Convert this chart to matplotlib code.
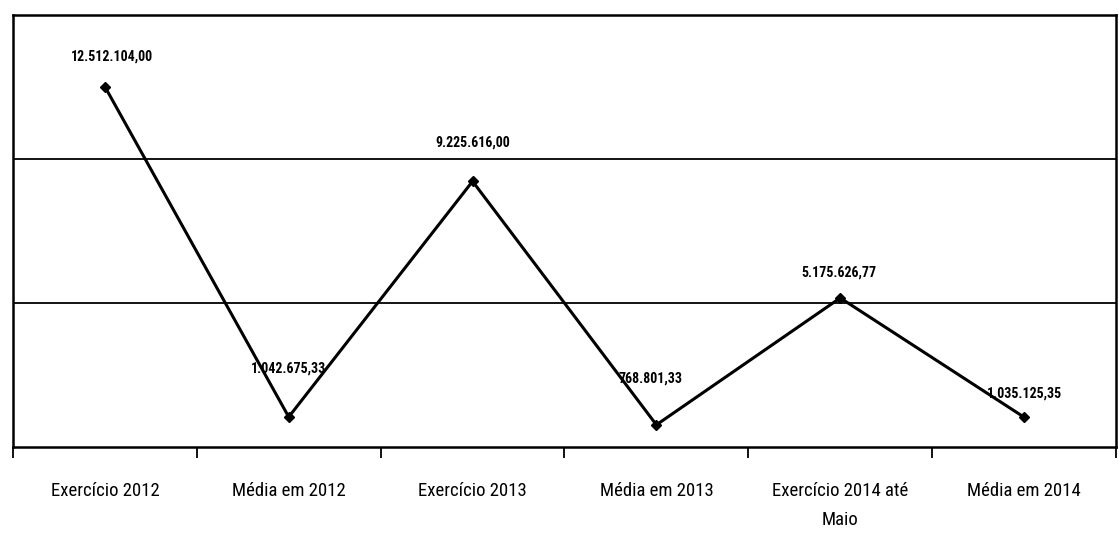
import matplotlib
matplotlib.use("Agg")
import matplotlib.pyplot as plt
from matplotlib import font_manager
from matplotlib.ticker import FixedLocator

categories = [
    "Exercício 2012",
    "Média em 2012",
    "Exercício 2013",
    "Média em 2013",
    "Exercício 2014 até\nMaio",
    "Média em 2014",
]
values = [12512104.00, 1042675.33, 9225616.00, 768801.33, 5175626.77, 1035125.35]
value_labels = [
    "12.512.104,00",
    "1.042.675,33",
    "9.225.616,00",
    "768.801,33",
    "5.175.626,77",
    "1.035.125,35",
]
# label offsets (points) relative to each marker
label_offsets = [(5, 22), (0, 35), (0, 28), (-4, 33), (-1, 18), (0, 17)]


def pick_narrow_font():
    """Return (family, stretch) of a condensed sans face if one is installed."""
    fonts = font_manager.fontManager.ttflist
    names = {f.name for f in fonts}
    for fam in ["Liberation Sans Narrow", "Roboto Condensed", "Open Sans Condensed",
                "Noto Sans Condensed", "DejaVu Sans Condensed", "Arial Narrow"]:
        if fam in names:
            return fam, "normal"
    for fam in ["Noto Sans", "Open Sans", "Roboto", "DejaVu Sans"]:
        for f in fonts:
            if f.name == fam and str(f.stretch) in ("condensed", "semi-condensed", "extra-condensed"):
                return fam, str(f.stretch)
    return "Lato", "normal"


narrow_family, narrow_stretch = pick_narrow_font()
narrow = [narrow_family, "Liberation Sans", "DejaVu Sans"]

fig = plt.figure(figsize=(11.19, 5.42), dpi=100)
ax = fig.add_axes([0.0116, 0.1753, 0.9857, 0.797])

x = list(range(len(categories)))
ax.plot(x, values, color="black", linewidth=2.2, marker="D", markersize=5,
        markerfacecolor="black", markeredgecolor="black", zorder=3)

for xi, v, lab, off in zip(x, values, value_labels, label_offsets):
    ax.annotate(lab, (xi, v), xytext=off, textcoords="offset points",
                ha="center", va="center", fontsize=10, fontweight="bold",
                family=narrow, fontstretch=narrow_stretch)

ax.set_xlim(-0.5, len(categories) - 0.5)
ax.set_ylim(0, 15000000)

ax.set_yticks([5000000, 10000000])
ax.yaxis.grid(True, color="black", linewidth=1.3)
ax.tick_params(axis="y", left=False, labelleft=False)

ax.set_xticks(x)
ax.set_xticklabels(categories, family=narrow, fontstretch=narrow_stretch,
                   fontsize=13.5, linespacing=1.8)
ax.xaxis.set_minor_locator(FixedLocator([i - 0.5 for i in range(len(categories) + 1)]))
ax.tick_params(axis="x", which="major", length=0, pad=25)
ax.tick_params(axis="x", which="minor", length=8, width=1.3, direction="out", color="black")

for side in ["top", "bottom", "left", "right"]:
    ax.spines[side].set_color("black")
    ax.spines[side].set_linewidth(1.8)

fig.savefig("out.png", dpi=100, facecolor="white")
